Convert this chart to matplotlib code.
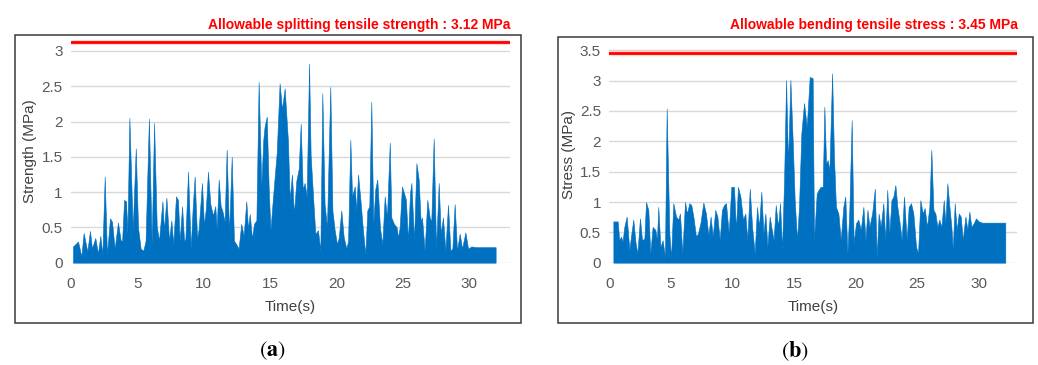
#!/usr/bin/env python3
"""
허용 응력 비교 그래프 (a) 할렬인장강도, (b) 휨인장응력
"""

import matplotlib
matplotlib.use("Agg")
import matplotlib.pyplot as plt
from matplotlib.patches import Rectangle

# (a) splitting tensile strength - time (s), strength (MPa)
time_a = [0.15, 0.53, 0.78, 0.95, 1.23, 1.43, 1.58, 1.83, 2.03, 2.21, 2.36, 2.54, 2.71, 2.94,
          3.09, 3.29, 3.54, 3.74, 3.85, 4.0, 4.15, 4.25, 4.4, 4.65, 4.88, 5.05, 5.25, 5.45,
          5.62, 5.87, 6.08, 6.26, 6.46, 6.63, 6.89, 7.01, 7.19, 7.39, 7.56, 7.71, 7.91, 8.06,
          8.19, 8.37, 8.52, 8.62, 8.82, 9.02, 9.17, 9.32, 9.5, 9.62, 9.87, 10.02, 10.17,
          10.32, 10.5, 10.7, 10.87, 10.98, 11.13, 11.28, 11.4, 11.58, 11.73, 11.91, 12.11,
          12.28, 12.46, 12.63, 12.83, 13.01, 13.21, 13.34, 13.47, 13.64, 13.79, 13.97, 14.14,
          14.34, 14.49, 14.59, 14.75, 14.9, 15.03, 15.17, 15.35, 15.5, 15.72, 15.9, 16.1,
          16.35, 16.48, 16.65, 16.8, 16.98, 17.16, 17.31, 17.46, 17.61, 17.76, 17.94, 18.06,
          18.24, 18.41, 18.61, 18.79, 18.94, 19.11, 19.29, 19.54, 19.7, 19.87, 20.05, 20.18,
          20.37, 20.55, 20.75, 20.88, 21.05, 21.18, 21.38, 21.5, 21.63, 21.81, 22.0, 22.18,
          22.33, 22.48, 22.63, 22.78, 22.93, 23.08, 23.28, 23.46, 23.64, 23.81, 24.02, 24.14,
          24.34, 24.54, 24.64, 24.77, 24.94, 25.09, 25.24, 25.39, 25.55, 25.65, 25.85, 26.03,
          26.2, 26.35, 26.45, 26.65, 26.85, 27.03, 27.15, 27.33, 27.51, 27.71, 27.86, 28.03,
          28.21, 28.41, 28.59, 28.74, 28.91, 29.09, 29.29, 29.47, 29.72, 29.92, 30.17, 30.55,
          31.18, 32.0]
strength_a = [0.23, 0.30, 0.09, 0.42, 0.16, 0.45, 0.20, 0.35, 0.13, 0.38, 0.11, 1.22, 0.11, 0.63,
              0.58, 0.20, 0.57, 0.32, 0.30, 0.89, 0.87, 0.41, 2.05, 0.46, 1.62, 0.50, 0.20, 0.17,
              0.31, 2.04, 0.26, 1.98, 0.52, 0.31, 0.87, 0.46, 0.92, 0.31, 0.60, 0.26, 0.94, 0.89,
              0.31, 0.80, 0.31, 0.34, 1.29, 0.20, 0.78, 1.22, 0.34, 0.48, 1.13, 0.53, 0.78,
              1.29, 0.83, 0.67, 0.80, 0.48, 1.18, 0.80, 0.74, 0.58, 1.60, 0.41, 1.50,
              0.31, 0.26, 0.20, 0.55, 0.38, 0.87, 0.48, 0.69, 0.34, 0.55, 0.60, 2.56,
              1.08, 1.74, 1.93, 2.07, 1.04, 0.46, 0.80, 1.22, 1.55, 2.54, 2.17, 2.47,
              1.72, 0.89, 1.25, 0.69, 1.16, 1.33, 1.97, 1.04, 1.13, 0.94, 2.82, 1.52,
              0.94, 0.41, 0.46, 0.17, 2.40, 0.83, 0.50, 2.49, 0.74, 0.46, 0.26, 0.36,
              0.74, 0.36, 0.20, 0.31, 1.74, 0.94, 1.08, 0.74, 1.25, 0.89, 0.46, 0.12,
              0.74, 0.80, 2.28, 0.55, 1.04, 1.18, 0.50, 0.26, 0.94, 0.64, 1.70, 0.64,
              0.55, 0.50, 0.36, 0.50, 1.08, 0.99, 0.89, 0.31, 0.99, 1.13, 0.31, 1.41,
              1.18, 0.58, 0.64, 0.17, 0.89, 0.64, 0.58, 1.76, 0.20, 1.13, 0.41, 0.64,
              0.17, 0.82, 0.17, 0.20, 0.83, 0.17, 0.41, 0.20, 0.43, 0.20, 0.23, 0.22,
              0.22, 0.22]

# (b) bending tensile stress - time (s), stress (MPa)
time_b = [0.33, 0.68, 0.81, 0.95, 1.08, 1.22, 1.41, 1.63, 1.76, 1.95, 2.12, 2.28, 2.49, 2.66,
          2.85, 2.98, 3.17, 3.33, 3.52, 3.74, 3.87, 3.98, 4.15, 4.33, 4.52, 4.66, 4.88, 5.01,
          5.2, 5.42, 5.61, 5.74, 5.93, 6.15, 6.31, 6.5, 6.66, 6.83, 7.04, 7.2, 7.4, 7.64,
          7.85, 8.05, 8.23, 8.4, 8.61, 8.78, 8.97, 9.15, 9.32, 9.48, 9.7, 9.91, 10.13, 10.29,
          10.45, 10.65, 10.86, 11.05, 11.21, 11.41, 11.6, 11.81, 12.0, 12.16, 12.35, 12.52,
          12.68, 12.84, 13.03, 13.16, 13.35, 13.52, 13.71, 13.87, 14.03, 14.2, 14.36, 14.52,
          14.71, 14.9, 15.06, 15.25, 15.41, 15.6, 15.82, 16.04, 16.28, 16.52, 16.63, 16.85,
          17.0, 17.17, 17.34, 17.47, 17.61, 17.74, 17.88, 18.1, 18.25, 18.41, 18.61, 18.8,
          19.01, 19.17, 19.34, 19.5, 19.69, 19.85, 20.04, 20.23, 20.43, 20.64, 20.81, 20.97,
          21.13, 21.35, 21.57, 21.72, 21.88, 22.05, 22.26, 22.42, 22.58, 22.75, 22.92, 23.08,
          23.24, 23.4, 23.57, 23.75, 23.94, 24.16, 24.32, 24.51, 24.7, 24.92, 25.08, 25.27,
          25.46, 25.62, 25.81, 26.0, 26.16, 26.33, 26.49, 26.65, 26.81, 26.98, 27.17, 27.3,
          27.46, 27.63, 27.79, 27.9, 28.06, 28.22, 28.39, 28.55, 28.71, 28.93, 29.09, 29.25,
          29.41, 29.6, 29.79, 30.01, 30.28, 31.09, 32.17]
stress_b = [0.68, 0.68, 0.37, 0.43, 0.35, 0.59, 0.76, 0.21, 0.43, 0.71, 0.35, 0.15, 0.73, 0.37,
            0.40, 1.00, 0.87, 0.15, 0.59, 0.54, 0.37, 0.92, 0.26, 0.37, 0.10, 2.54, 0.48, 0.07,
            0.98, 0.76, 0.71, 0.81, 0.15, 1.00, 0.81, 0.98, 0.95, 0.76, 0.43, 0.48, 0.65, 0.99,
            0.81, 0.45, 0.76, 0.43, 0.87, 0.76, 0.37, 0.87, 0.95, 0.98, 0.48, 1.25, 1.25, 0.54,
            1.25, 1.09, 0.71, 0.81, 0.37, 1.22, 0.59, 0.15, 0.92, 0.59, 1.17, 0.48,
            0.81, 0.26, 0.76, 0.59, 0.37, 0.95, 0.59, 0.98, 0.21, 1.36, 3.01, 1.63,
            3.01, 2.00, 1.03, 0.37, 0.92, 2.13, 2.63, 2.24, 3.06, 3.04, 0.37, 1.14,
            1.20, 1.25, 1.25, 2.57, 1.63, 1.69, 1.52, 3.12, 1.75, 0.92, 0.81, 0.37,
            0.92, 1.09, 0.15, 0.87, 2.35, 0.32, 0.65, 0.71, 0.54, 0.92, 0.37, 0.87,
            0.59, 0.81, 1.22, 0.10, 0.81, 0.59, 0.98, 0.37, 1.20, 0.48, 1.03, 1.09,
            1.28, 0.92, 0.68, 0.37, 1.09, 0.37, 0.92, 0.98, 0.81, 0.26, 0.15, 1.03,
            0.81, 0.90, 0.59, 0.92, 1.86, 0.87, 0.81, 0.59, 0.71, 0.59, 1.03, 0.65,
            1.31, 0.92, 0.59, 0.21, 0.98, 0.54, 0.81, 0.76, 0.37, 0.76, 0.54, 0.84,
            0.59, 0.65, 0.73, 0.68, 0.66, 0.66, 0.66]

x_ticks = [0, 5, 10, 15, 20, 25, 30]
y_ticks_a = [0, 0.5, 1, 1.5, 2, 2.5, 3]
y_ticks_b = [0, 0.5, 1, 1.5, 2, 2.5, 3, 3.5]
y_ticklabels_a = ["0", "0.5", "1", "1.5", "2", "2.5", "3"]
y_ticklabels_b = ["0", "0.5", "1", "1.5", "2", "2.5", "3", "3.5"]

allow_a = 3.12
allow_b = 3.45
title_a = "Allowable splitting tensile strength : 3.12 MPa"
title_b = "Allowable bending tensile stress : 3.45 MPa"

FILL = "#0070c0"
GRID = "#d9d9d9"
TXT = "#595959"
W, H = 1038, 365

plt.rcParams["font.family"] = ["Liberation Sans", "DejaVu Sans"]
plt.rcParams["mathtext.fontset"] = "stix"


def px_rect(x0, y0, x1, y1):
    """픽셀 좌표 (위에서부터) -> figure 좌표"""
    return [x0 / W, 1 - y1 / H, (x1 - x0) / W, (y1 - y0) / H]


def draw_panel(fig, rect, t, v, ylim, yticks, ylabels, allow, ylabel):
    ax = fig.add_axes(rect)
    ax.fill_between(t, v, 0, color=FILL, linewidth=0.4, edgecolor=FILL, zorder=3)
    # 허용값 (그림자 + 빨간선)
    ax.axhline(allow, color="#ffc8bd", linewidth=4.5, alpha=0.7, zorder=4)
    ax.axhline(allow, color="#ff0000", linewidth=2.0, zorder=5)

    ax.set_xlim(0, 33.1)
    ax.set_ylim(*ylim)
    ax.set_xticks(x_ticks)
    ax.set_yticks(yticks)
    ax.set_yticklabels(ylabels)
    ax.grid(axis="y", color=GRID, linewidth=1.0, zorder=0)
    ax.set_axisbelow(True)
    for s in ax.spines.values():
        s.set_visible(False)
    ax.tick_params(length=0, labelsize=11, labelcolor=TXT)
    ax.tick_params(axis="y", pad=6)
    ax.tick_params(axis="x", pad=10)
    ax.set_xlabel("Time(s)", fontsize=11, color="#404040", labelpad=7)
    ax.set_ylabel(ylabel, fontsize=11, color="#404040", labelpad=3)
    return ax


def main():
    fig = plt.figure(figsize=(W / 100, H / 100), dpi=100)

    # 바깥 테두리
    for (x0, y0, x1, y1) in [(15, 35, 521, 322.5), (558, 36.5, 1033, 323)]:
        fig.patches.append(Rectangle((x0 / W, 1 - y1 / H), (x1 - x0) / W, (y1 - y0) / H,
                                     transform=fig.transFigure, fill=False,
                                     edgecolor="#3a3a3a", linewidth=1.1))

    draw_panel(fig, px_rect(71, 262.7 - 3.15 * 70.6, 71 + 33.1 * 13.27, 262.7),
               time_a, strength_a, (0, 3.15), y_ticks_a, y_ticklabels_a, allow_a,
               "Strength (MPa)")
    draw_panel(fig, px_rect(609.3, 262.7 - 3.55 * 60.7, 609.3 + 33.1 * 12.31, 262.7),
               time_b, stress_b, (0, 3.55), y_ticks_b, y_ticklabels_b, allow_b,
               "Stress (MPa)")

    fig.text(510 / W, 1 - 25 / H, title_a, ha="right", va="center", color="#ff0000",
             fontsize=10, fontweight="bold")
    fig.text(1018 / W, 1 - 25 / H, title_b, ha="right", va="center", color="#ff0000",
             fontsize=10, fontweight="bold")

    fig.text(272 / W, 1 - 351 / H, r"$(\mathbf{a})$", ha="center", va="center", fontsize=16)
    fig.text(795 / W, 1 - 351 / H, r"$(\mathbf{b})$", ha="center", va="center", fontsize=16)

    fig.savefig("out.png", dpi=100)
    plt.close(fig)


if __name__ == "__main__":
    main()
